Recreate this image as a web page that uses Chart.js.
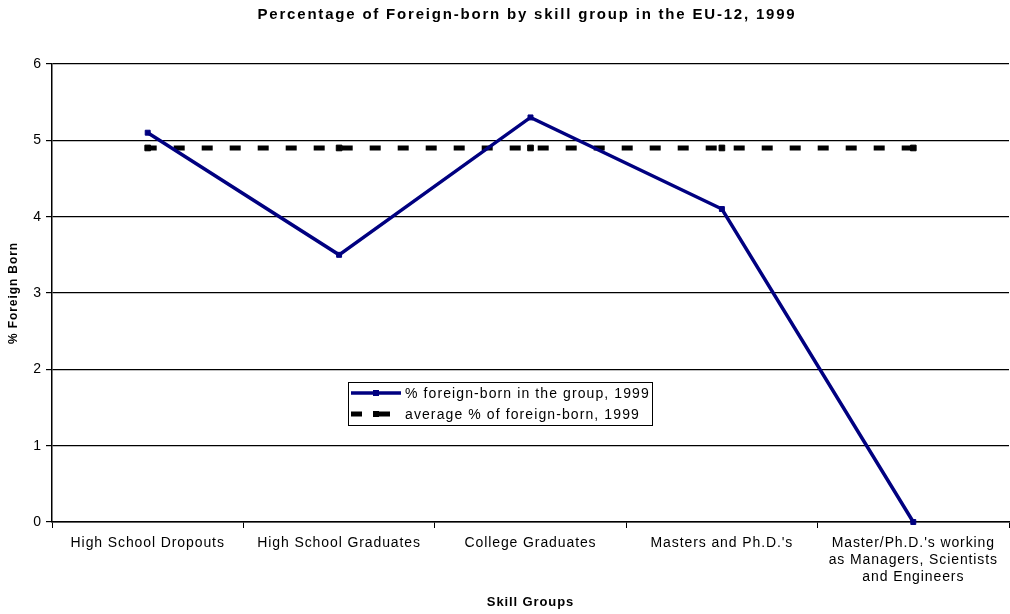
<!DOCTYPE html>
<html>
<head>
<meta charset="utf-8">
<script src="https://cdn.jsdelivr.net/npm/chart.js@4/dist/chart.umd.min.js"></script>
<style>
  html, body { margin: 0; padding: 0; background: #fff; }
  #wrap { width: 1010px; height: 614px; }
</style>
</head>
<body>
<div id="wrap"><canvas id="skill-chart" width="1010" height="614"></canvas></div>
<script>
const chartTitle = "Percentage of Foreign-born by skill group in the EU-12, 1999";
const skillGroups = [
  "High School Dropouts",
  "High School Graduates",
  "College Graduates",
  "Masters and Ph.D.'s",
  ["Master/Ph.D.'s working", "as Managers, Scientists", "and Engineers"]
];
const foreignBornShare = [5.1, 3.5, 5.3, 4.1, 0];
const averageShare = [4.9, 4.9, 4.9, 4.9, 4.9];
const yTicks = [0, 1, 2, 3, 4, 5, 6];

const FONT = "'Liberation Sans', Arial, sans-serif";

// wide lettering for all chart text
const wideText = {
  id: "wideText",
  beforeDraw(chart) { chart.ctx.letterSpacing = "0.9px"; },
  afterDraw(chart) { chart.ctx.letterSpacing = "0px"; }
};

// title and legend box drawn by hand
const titleAndLegend = {
  id: "titleAndLegend",
  afterDraw(chart) {
    const ctx = chart.ctx;
    ctx.save();
    ctx.letterSpacing = "1.8px";
    ctx.fillStyle = "#000";
    ctx.font = "bold 15px " + FONT;
    ctx.textAlign = "center";
    ctx.textBaseline = "middle";
    ctx.fillText(chartTitle, 527, 15);

    const x = 348, y = 382, w = 304, h = 43;
    ctx.fillStyle = "#fff";
    ctx.fillRect(x, y, w, h);
    ctx.strokeStyle = "#000";
    ctx.lineWidth = 1;
    ctx.strokeRect(x + 0.5, y + 0.5, w, h);
    ctx.letterSpacing = "1.1px";
    ctx.font = "14px " + FONT;
    ctx.textAlign = "left";
    chart.data.datasets.forEach((ds, i) => {
      const cy = y + 11 + i * 21;
      ctx.strokeStyle = ds.borderColor;
      ctx.lineWidth = ds.borderWidth;
      ctx.setLineDash(ds.borderDash || []);
      ctx.beginPath();
      ctx.moveTo(x + 3, cy);
      ctx.lineTo(x + 53, cy);
      ctx.stroke();
      ctx.setLineDash([]);
      ctx.fillStyle = ds.pointBackgroundColor;
      ctx.fillRect(x + 25, cy - 3, 6, 6);
      ctx.fillStyle = "#000";
      ctx.fillText(ds.label, x + 57, cy + 1);
    });
    ctx.restore();
  }
};

const data = {
  labels: skillGroups,
  datasets: [
    {
      label: "% foreign-born in the group, 1999",
      data: foreignBornShare,
      borderColor: "#000080",
      backgroundColor: "#000080",
      pointBackgroundColor: "#000080",
      pointBorderColor: "#000080",
      borderWidth: 3.5,
      pointStyle: "rect",
      pointRadius: 3.5,
      pointBorderWidth: 1,
      tension: 0,
      clip: false
    },
    {
      label: "average % of foreign-born, 1999",
      data: averageShare,
      borderColor: "#000",
      backgroundColor: "#000",
      pointBackgroundColor: "#000",
      pointBorderColor: "#000",
      borderWidth: 5,
      borderDash: [11, 17],
      borderDashOffset: 2,
      borderCapStyle: "butt",
      pointStyle: "rect",
      pointRadius: 4,
      pointBorderWidth: 1,
      tension: 0,
      clip: false
    }
  ]
};

const config = {
  type: "line",
  data: data,
  options: {
    responsive: false,
    animation: false,
    layout: { autoPadding: false, padding: { left: 0, right: 1, top: 64, bottom: 0 } },
    plugins: {
      legend: { display: false },
      tooltip: { enabled: false },
      title: { display: false }
    },
    scales: {
      x: {
        offset: true,
        grid: {
          offset: true,
          drawOnChartArea: false,
          drawTicks: true,
          tickLength: 6,
          color: "#000"
        },
        border: { color: "#000", width: 1.5 },
        ticks: {
          color: "#000",
          font: { family: FONT, size: 14 },
          maxRotation: 0,
          autoSkip: false,
          padding: 7
        },
        title: {
          display: true,
          text: "Skill Groups",
          color: "#000",
          font: { family: FONT, size: 13, weight: "bold" },
          padding: { top: 2, bottom: 4 }
        },
        afterFit(scale) {
          scale.height = 92;
          scale.paddingLeft = 0;
          scale.paddingRight = 0;
        }
      },
      y: {
        min: 0,
        max: 6,
        afterBuildTicks(scale) { scale.ticks = yTicks.map(v => ({ value: v })); },
        grid: { color: "#000", lineWidth: 1.2, tickLength: 6 },
        border: { color: "#000", width: 1.5 },
        ticks: {
          color: "#000",
          font: { family: FONT, size: 14 },
          padding: 4
        },
        title: {
          display: true,
          text: "% Foreign Born",
          color: "#000",
          font: { family: FONT, size: 12, weight: "bold" },
          padding: { top: 6, bottom: 0 }
        },
        afterFit(scale) { scale.width = 52; }
      }
    }
  },
  plugins: [wideText, titleAndLegend]
};

const chart = new Chart(document.getElementById("skill-chart"), config);
</script>
</body>
</html>
